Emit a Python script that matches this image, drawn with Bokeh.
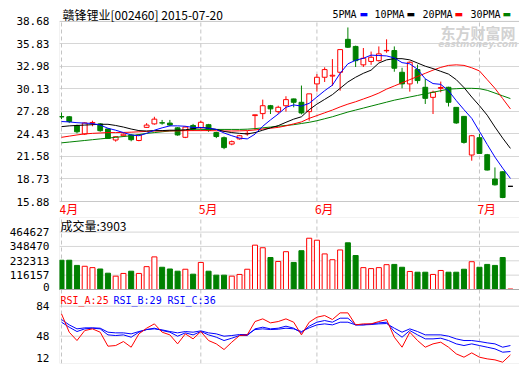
from bokeh.plotting import figure
from bokeh.models import Range1d, FixedTicker, Label, Span, PrintfTickFormatter, BoxAnnotation
from bokeh.layouts import column
from bokeh.embed import file_html
from bokeh.resources import INLINE

# ---------------- data ----------------
opens = [26.62, 26.60, 25.50, 24.43, 25.80, 25.70, 25.06, 23.66, 24.20, 24.30,
         23.60, 25.26, 25.70, 25.85, 25.80, 25.20, 24.00, 25.50, 25.20, 25.60,
         24.60, 23.95, 23.15, 23.80, 24.45, 26.75, 27.00, 28.00, 27.25, 28.00,
         28.86, 28.43, 27.25, 30.76, 31.60, 31.75, 32.23, 36.40, 35.50, 33.17,
         33.60, 33.70, 34.95, 34.98, 32.23, 30.76, 32.57, 30.33, 29.06, 30.20,
         30.33, 27.79, 26.65, 21.76, 23.95, 21.80, 18.72, 19.64, 17.80]
highs = [27.15, 26.70, 25.60, 25.90, 26.10, 25.80, 25.10, 24.10, 24.50, 24.40,
         24.40, 25.80, 26.60, 26.20, 26.20, 25.30, 25.40, 25.70, 26.10, 25.70,
         24.70, 24.10, 23.60, 24.30, 24.80, 26.85, 28.77, 28.10, 28.00, 29.20,
         28.90, 30.55, 29.50, 32.00, 32.86, 33.90, 35.10, 37.90, 35.60, 35.30,
         34.85, 35.50, 36.40, 35.50, 32.80, 33.60, 33.20, 31.39, 29.90, 31.05,
         30.40, 27.80, 26.70, 24.30, 24.43, 21.90, 20.19, 19.70, 17.80]
lows = [26.30, 25.80, 24.50, 24.30, 25.40, 24.70, 23.80, 23.45, 24.05, 23.50,
        23.50, 25.20, 25.60, 25.60, 25.40, 24.20, 23.90, 24.80, 25.00, 24.70,
        23.90, 22.50, 23.00, 23.70, 24.20, 24.95, 26.30, 26.95, 27.00, 27.25,
        27.80, 26.90, 26.10, 29.78, 31.00, 30.50, 29.90, 35.30, 32.90, 32.90,
        33.17, 33.60, 34.70, 32.30, 30.20, 29.78, 30.80, 28.22, 26.95, 29.70,
        27.90, 25.70, 23.20, 21.04, 21.90, 19.80, 17.90, 16.30, 17.80]
closes = [26.58, 26.00, 24.70, 25.82, 25.88, 24.84, 23.86, 24.08, 24.40, 23.70,
          24.30, 25.55, 26.30, 25.80, 25.55, 24.30, 25.30, 25.00, 25.90, 24.90,
          24.10, 22.70, 23.45, 24.20, 24.50, 26.85, 28.00, 27.60, 27.80, 28.77,
          28.43, 27.08, 29.50, 31.60, 32.57, 31.85, 35.10, 35.40, 33.70, 34.00,
          34.13, 34.56, 35.00, 32.74, 30.76, 33.50, 31.18, 28.93, 29.70, 30.30,
          28.43, 25.82, 23.36, 24.20, 21.96, 19.86, 17.99, 16.39, 17.80]
volumes = [237000, 237000, 195000, 188000, 177000, 166000, 132000, 108000, 130000, 148000,
           130000, 185000, 264000, 180000, 166000, 148000, 164000, 124000, 219000, 148000,
           116000, 116000, 108000, 122000, 164000, 359000, 338000, 259000, 227000, 306000,
           219000, 314000, 415000, 399000, 288000, 241000, 320000, 378000, 275000, 177000,
           169000, 177000, 201000, 203000, 180000, 146000, 140000, 140000, 122000, 154000,
           140000, 140000, 164000, 225000, 180000, 203000, 195000, 259000, 3903]
ma5 = [26.00, 25.95, 25.85, 25.80, 25.75, 25.55, 25.15, 24.90, 24.60, 24.30,
       24.20, 24.50, 24.90, 25.20, 25.45, 25.45, 25.40, 25.25, 25.25, 25.15,
       25.00, 24.55, 24.20, 23.90, 23.80, 24.40, 25.40, 26.20, 26.95, 27.80,
       28.10, 27.95, 28.30, 29.10, 29.90, 30.60, 32.10, 33.30, 33.75, 34.00,
       34.40, 34.35, 34.30, 34.05, 33.45, 33.30, 32.60, 31.40, 30.80, 30.70,
       29.90, 28.65, 27.50, 26.40, 24.75, 23.10, 21.50, 20.10, 18.80]
ma10 = [25.35, 25.45, 25.50, 25.55, 25.60, 25.65, 25.65, 25.50, 25.30, 25.05,
        24.85, 24.80, 24.85, 24.85, 24.90, 24.90, 24.95, 25.10, 25.25, 25.15,
        25.00, 24.75, 24.60, 24.50, 24.43, 24.60, 24.90, 25.20, 25.48, 25.90,
        26.30, 26.60, 27.50, 28.20, 28.80, 29.40, 30.20, 31.00, 31.60, 32.10,
        32.50, 33.40, 33.80, 33.95, 33.95, 33.80, 33.40, 33.00, 32.70, 32.35,
        32.00, 31.30, 30.30, 29.10, 28.00, 26.80, 25.30, 23.90, 22.60]
ma20 = [24.00, 24.15, 24.30, 24.43, 24.50, 24.55, 24.60, 24.60, 24.62, 24.65,
        24.70, 24.75, 24.80, 24.80, 24.82, 24.82, 24.85, 24.85, 24.85, 24.85,
        24.83, 24.80, 24.80, 24.82, 24.85, 24.93, 25.05, 25.15, 25.26, 25.45,
        25.70, 25.95, 26.40, 26.75, 27.10, 27.45, 27.85, 28.20, 28.50, 28.85,
        29.20, 29.60, 30.10, 30.50, 30.90, 31.30, 31.70, 32.10, 32.50, 32.85,
        33.10, 33.17, 33.10, 32.80, 32.40, 31.30, 30.20, 28.90, 27.60]
ma30 = [23.30, 23.40, 23.50, 23.60, 23.70, 23.80, 23.90, 24.00, 24.10, 24.20,
        24.35, 24.50, 24.60, 24.70, 24.80, 24.85, 24.90, 24.95, 24.97, 25.00,
        25.00, 25.00, 25.00, 25.00, 25.03, 25.10, 25.20, 25.30, 25.40, 25.50,
        25.60, 25.75, 25.90, 26.10, 26.35, 26.60, 26.90, 27.20, 27.45, 27.70,
        27.95, 28.20, 28.45, 28.70, 28.90, 29.10, 29.30, 29.50, 29.70, 29.90,
        30.10, 30.15, 30.20, 30.20, 30.15, 29.95, 29.60, 29.25, 28.90]
rsi_a = [74.8, 52.8, 42.8, 54.8, 56.8, 52.8, 36.0, 36.8, 41.6, 34.8,
         50.8, 57.6, 62.8, 52.8, 49.6, 38.8, 50.8, 44.8, 53.6, 42.8,
         38.8, 32.0, 40.8, 48.8, 49.6, 65.6, 68.8, 64.0, 65.6, 68.8,
         64.8, 49.6, 64.8, 70.8, 72.8, 68.0, 76.0, 76.0, 61.6, 62.8,
         62.8, 65.6, 68.0, 46.8, 34.8, 52.8, 42.8, 34.8, 38.8, 40.8,
         34.8, 26.8, 22.8, 28.0, 22.8, 20.8, 19.6, 16.8, 25.6]
rsi_b = [64.8, 58.8, 53.6, 56.8, 57.6, 56.8, 49.6, 48.8, 49.6, 46.8,
         52.8, 56.0, 57.6, 54.8, 52.8, 48.0, 52.0, 49.6, 53.6, 49.6,
         46.8, 42.8, 45.6, 48.8, 48.8, 56.8, 58.8, 56.8, 57.6, 60.0,
         57.6, 52.0, 60.0, 64.8, 66.8, 64.8, 69.6, 69.6, 61.6, 61.6,
         62.8, 64.0, 64.8, 53.6, 46.8, 54.8, 49.6, 44.8, 44.8, 45.6,
         42.8, 38.8, 36.8, 38.8, 36.8, 34.8, 32.8, 28.8, 29.6]
rsi_c = [68.0, 61.6, 56.8, 58.0, 58.0, 57.6, 52.8, 52.0, 52.0, 50.8,
         53.6, 56.0, 56.8, 55.6, 53.6, 52.0, 53.6, 52.8, 54.4, 52.0,
         50.8, 48.0, 48.8, 50.0, 50.0, 56.0, 56.8, 56.0, 56.4, 57.6,
         56.8, 53.6, 58.0, 61.6, 62.8, 61.6, 64.8, 64.8, 61.6, 61.6,
         62.0, 62.8, 63.2, 57.6, 52.8, 56.8, 53.6, 49.6, 49.6, 49.6,
         48.0, 44.8, 42.8, 42.8, 41.6, 40.0, 38.8, 34.8, 36.8]

month_ticks = [0, 18, 33, 54]
month_labels = ["4月", "5月", "6月", "7月"]
price_ticks = [15.88, 18.73, 21.58, 24.43, 27.28, 30.13, 32.98, 35.83, 38.68]
vol_ticks = [0, 116157, 232313, 348470, 464627]
rsi_ticks = [12, 48, 84]
title_text = "赣锋锂业[002460] 2015-07-20"
ma_names = ["5PMA", "10PMA", "20PMA", "30PMA"]
rsi_names = ["RSI_A", "RSI_B", "RSI_C"]

# ---------------- styles / layout constants ----------------
UP, DOWN, FLAT = "#ff0000", "#008000", "#000000"
BLUE = "#0000ff"
MA_COLORS = [BLUE, "#000000", "#ff0000", "#008000"]
RSI_COLORS = ["#ff0000", BLUE, BLUE]
GRID = "#d6d6d6"
VGRID = "#c4c4c4"
FRAME = "#a8a8a8"
MONO = "DejaVu Sans Mono"
CJK = "Noto Sans CJK SC"

W = 519
LEFT = 59
PX_PER_BAR = 7.74
X0 = -2.0 / PX_PER_BAR
X1 = X0 + (W - LEFT) / PX_PER_BAR
xr = Range1d(X0, X1)

n = len(closes)
idx = list(range(n))
c_col = [UP if c > o else (DOWN if c < o else FLAT) for o, c in zip(opens, closes)]
c_fill = ["#ffffff" if c > o else col for o, c, col in zip(opens, closes, c_col)]
b_top = [max(o, c) for o, c in zip(opens, closes)]
b_bot = [min(o, c) for o, c in zip(opens, closes)]
v_col = [UP if c >= o else DOWN for o, c in zip(opens, closes)]
v_fill = ["#ffffff" if c >= o else DOWN for o, c in zip(opens, closes)]


def style_axis(p):
    p.background_fill_color = "white"
    p.border_fill_color = "white"
    p.outline_line_color = None
    for g in p.xgrid:
        g.visible = False
    ax = p.yaxis[0]
    ax.axis_line_color = None
    ax.major_tick_line_color = None
    ax.minor_tick_line_color = None
    ax.major_label_standoff = 4
    ax.major_label_text_font = MONO
    ax.major_label_text_font_size = "11px"
    ax.major_label_text_color = "#000000"


# ---------------- price panel (frame spans whole figure) ----------------
H1 = 217
TOP_PX, BOT_PX = 20.8, 201.0          # pixel rows of the top / bottom price ticks
ppu = (BOT_PX - TOP_PX) / (price_ticks[-1] - price_ticks[0])
y1 = Range1d(price_ticks[0] - (H1 - BOT_PX) / ppu, price_ticks[-1] + TOP_PX / ppu)

p1 = figure(width=W, height=H1, x_range=xr, y_range=y1,
            output_backend="svg", toolbar_location=None, x_axis_location=None,
            min_border_left=LEFT, min_border_right=0, min_border_top=0, min_border_bottom=0)
style_axis(p1)
p1.yaxis.ticker = FixedTicker(ticks=price_ticks)
p1.yaxis.formatter = PrintfTickFormatter(format="%.2f")
p1.ygrid.ticker = FixedTicker(ticks=price_ticks)
p1.ygrid.grid_line_color = GRID

# watermark
p1.add_layout(Label(x=53.8, y=37.2, text="东方财富网", text_align="center", text_baseline="middle",
                    text_font=CJK, text_font_size="15px", text_font_style="bold", text_color="#d2d2d2"))
p1.add_layout(Label(x=53.8, y=35.87, text="eastmoney.com", text_align="center", text_baseline="middle",
                    text_font="DejaVu Sans", text_font_size="9px", text_font_style="bold italic",
                    text_color="#d2d2d2"))

# month separators (dashed) inside the price box
p1.segment(x0=month_ticks, y0=[price_ticks[0]] * len(month_ticks), x1=month_ticks,
           y1=[price_ticks[-1]] * len(month_ticks), line_color=VGRID, line_dash="4 3", line_width=1)

p1.segment(x0=idx, y0=lows, x1=idx, y1=highs, line_color=c_col, line_width=1)
p1.vbar(x=idx, width=0.62, top=b_top, bottom=b_bot, fill_color=c_fill, line_color=c_col, line_width=1)
for ma, col in zip([ma30, ma20, ma10, ma5], MA_COLORS[::-1]):
    p1.line(idx, ma, line_color=col, line_width=1)

# price box border (right edge lies beyond the window)
p1.add_layout(BoxAnnotation(top=price_ticks[-1], bottom=price_ticks[0], right=X1 + 5,
                            fill_alpha=0, line_color=FRAME, line_width=1))

# title and legend
p1.add_layout(Label(x=X0, y=price_ticks[-1], x_offset=3, y_offset=7, text=title_text,
                    text_baseline="middle", text_font=CJK, text_font_size="12px", text_color="#000000"))
legend_text_off = [273, 315, 363, 411]
legend_mark_off = [300, 347, 395, 443]
for name, col, tx, mx in zip(ma_names, MA_COLORS, legend_text_off, legend_mark_off):
    p1.add_layout(Label(x=X0, y=price_ticks[-1], x_offset=tx, y_offset=7, text=name,
                        text_baseline="middle", text_font=MONO, text_font_size="10px", text_color="#000000"))
    p1.add_layout(Label(x=X0, y=price_ticks[-1], x_offset=mx, y_offset=7, text="▬",
                        text_baseline="middle", text_font="DejaVu Sans", text_font_size="9px", text_color=col))
# month labels
for t, lab in zip(month_ticks, month_labels):
    p1.add_layout(Label(x=t, y=price_ticks[0], x_offset=-2, y_offset=-7, text=lab,
                        text_baseline="middle", text_font=CJK, text_font_size="12px", text_color="#ff0000"))

# ---------------- volume + RSI panel ----------------
H2 = 146.0            # frame height (virtual units = pixels from the frame bottom)
SEP = 74.0            # divider between volume and RSI boxes
VOL_TOP = 131.4       # position of the top volume tick
kv = (VOL_TOP - SEP) / vol_ticks[-1]
RSI_TOP = 57.3        # position of RSI 84
kr = 30.0 / (rsi_ticks[2] - rsi_ticks[1])
rsi0 = rsi_ticks[-1] - RSI_TOP / kr

p2 = figure(width=W, height=int(H2) + 1, x_range=xr, y_range=Range1d(0, H2),
            output_backend="svg", toolbar_location=None, x_axis_location=None,
            min_border_left=LEFT, min_border_right=0, min_border_top=0, min_border_bottom=1)
p2.extra_y_ranges = {
    "vol": Range1d((0 - SEP) / kv, (H2 - SEP) / kv),
    "rsi": Range1d(rsi0, rsi0 + H2 / kr),
}
style_axis(p2)
for g in p2.ygrid:
    g.visible = False

vol_pos = [SEP + v * kv for v in vol_ticks]
rsi_pos = [(r - rsi0) * kr for r in rsi_ticks]
# label anchors: edge labels nudged to stay inside their boxes
lab_pos = [round(vol_pos[0] + 3, 3)] + [round(v, 3) for v in vol_pos[1:]] + \
          [round(max(r, 6.0), 3) for r in rsi_pos]
lab_txt = [str(v) for v in vol_ticks] + [str(r) for r in rsi_ticks]
p2.yaxis.ticker = FixedTicker(ticks=lab_pos)
p2.yaxis.major_label_overrides = {pos: txt for pos, txt in zip(lab_pos, lab_txt)}

for pos in vol_pos[1:] + [r for r in rsi_pos if r > 0]:
    p2.add_layout(Span(location=pos, dimension="width", line_color=GRID, line_width=1, level="underlay"))
p2.segment(x0=month_ticks, y0=[0] * len(month_ticks), x1=month_ticks, y1=[H2] * len(month_ticks),
           line_color=VGRID, line_dash="4 3", line_width=1)

p2.vbar(x=idx, width=0.65, top=volumes, bottom=0, y_range_name="vol",
        fill_color=v_fill, line_color=v_col, line_width=1)
for vals, col in zip([rsi_c, rsi_b, rsi_a], RSI_COLORS[::-1]):
    p2.line(idx, vals, y_range_name="rsi", line_color=col, line_width=1)

p2.add_layout(Span(location=SEP, dimension="width", line_color=FRAME, line_width=1))
p2.add_layout(BoxAnnotation(right=X1 + 5, fill_alpha=0, line_color=FRAME, line_width=1))

p2.add_layout(Label(x=X0, y=H2 - 8, x_offset=1, text="成交量:%d" % volumes[-1], text_baseline="middle",
                    text_font=CJK, text_font_size="12px", text_color="#000000"))
for name, vals, col, off in zip(rsi_names, [rsi_a, rsi_b, rsi_c], RSI_COLORS, [1, 54, 108]):
    p2.add_layout(Label(x=X0, y=SEP - 11, x_offset=off, text="%s:%d" % (name, int(vals[-1])),
                        text_baseline="middle", text_font=MONO, text_font_size="10px", text_color=col))

layout = column(p1, p2, spacing=0)
open("out.html", "w").write(file_html(layout, INLINE))
